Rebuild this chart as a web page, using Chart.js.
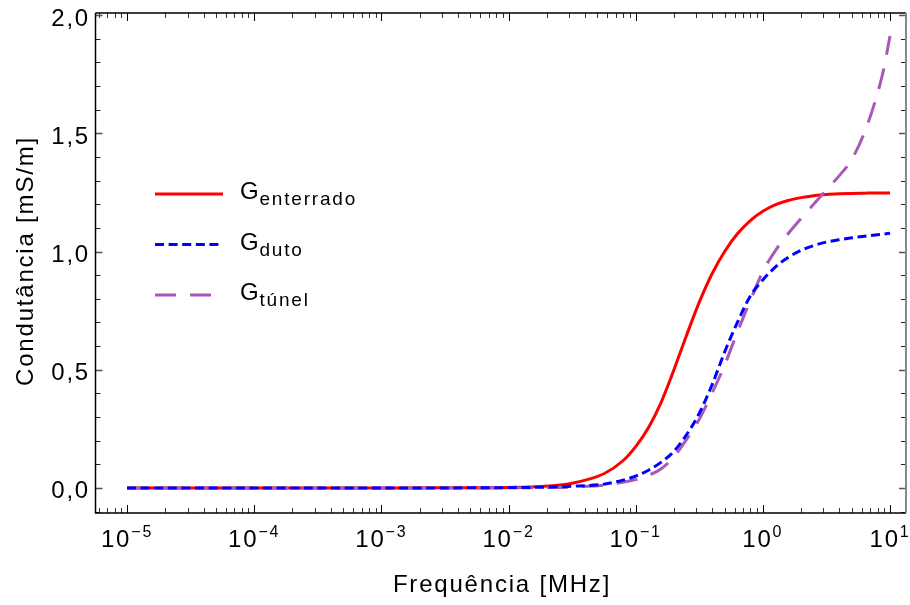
<!DOCTYPE html>
<html>
<head>
<meta charset="utf-8">
<script src="https://cdn.jsdelivr.net/npm/chart.js@4.4.1/dist/chart.umd.min.js"></script>
<style>
  body { margin: 0; background: #fff; }
  canvas { display: block; }
</style>
</head>
<body>
<canvas id="condChart" width="910" height="605"></canvas>
<script>
    // Frequencies [MHz] and conductance curves [mS/m]
    const freq = [1e-5, 1e-4, 1e-3, 0.00316, 0.01, 0.0178, 0.0316, 0.0562, 0.0794, 0.1,
        0.126, 0.158, 0.2, 0.251, 0.316, 0.398, 0.501, 0.631, 0.794, 1,
        1.26, 1.58, 2, 2.51, 3.16, 3.98, 5.01, 6.31, 7.94, 8.91, 10];
    const gEnterrado = [0, 0, 0, 0.0003, 0.002, 0.006, 0.02, 0.06, 0.115, 0.175,
        0.255, 0.36, 0.50, 0.645, 0.785, 0.905, 1.0, 1.075, 1.13, 1.17,
        1.198, 1.216, 1.228, 1.236, 1.241, 1.244, 1.246, 1.247, 1.248, 1.248, 1.248];
    const gDuto = [0, 0, 0, 0.0002, 0.001, 0.003, 0.007, 0.016, 0.033, 0.05,
        0.075, 0.108, 0.155, 0.225, 0.315, 0.435, 0.575, 0.70, 0.81, 0.88,
        0.935, 0.975, 1.005, 1.025, 1.04, 1.05, 1.058, 1.065, 1.071, 1.074, 1.077];
    const gTunel = [0, 0, 0, 0.0001, 0.0005, 0.0015, 0.004, 0.012, 0.024, 0.035,
        0.053, 0.08, 0.132, 0.205, 0.29, 0.40, 0.52, 0.66, 0.79, 0.915,
        1.005, 1.075, 1.14, 1.20, 1.26, 1.32, 1.39, 1.505, 1.665, 1.77, 1.912];

    // Tick labels
    const xDecades = [1e-5, 1e-4, 1e-3, 1e-2, 1e-1, 1, 10];
    const xExponents = ['\u22125', '\u22124', '\u22123', '\u22122', '\u22121', '0', '1'];
    const yTicks = [0, 0.5, 1, 1.5, 2];
    const yTickLabels = ['0,0', '0,5', '1,0', '1,5', '2,0'];

    const legendRows = [
        { sub: 'enterrado', color: '#ff0000', dash: [], width: 3 },
        { sub: 'duto', color: '#0000ff', dash: [9, 4.6], width: 3 },
        { sub: 't\u00fanel', color: 'rgb(168,88,182)', dash: [21, 14], width: 3 }
    ];

    const FONT = '"Liberation Sans", Arial, sans-serif';

    const toPoints = vals => vals.map((v, i) => ({ x: freq[i], y: v }));

    // Frame, inward ticks, tick labels, titles and legend
    const framePlugin = {
        id: 'frame',
        afterDraw(chart) {
            const ctx = chart.ctx;
            const area = chart.chartArea;
            const xs = chart.scales.x;
            const ys = chart.scales.y;
            ctx.save();

            // x ticks (bottom and top)
            for (let k = -6; k <= 1; k++) {
                for (let m = 1; m <= 9; m++) {
                    const v = m * Math.pow(10, k);
                    if (v < xs.min || v > xs.max) continue;
                    const px = Math.round(xs.getPixelForValue(v)) + 0.5;
                    const len = m === 1 ? 8 : 5;
                    ctx.strokeStyle = m === 1 ? '#000' : '#333';
                    ctx.lineWidth = 1;
                    ctx.beginPath();
                    ctx.moveTo(px, area.bottom);
                    ctx.lineTo(px, area.bottom - len);
                    ctx.moveTo(px, area.top);
                    ctx.lineTo(px, area.top + len);
                    ctx.stroke();
                }
            }
            // y ticks (left and right)
            for (let i = -1; i <= 20; i++) {
                const v = i / 10;
                const py = Math.round(ys.getPixelForValue(v)) + 0.5;
                const len = i % 5 === 0 ? 7 : 5;
                ctx.strokeStyle = i % 5 === 0 ? '#555' : '#222';
                ctx.lineWidth = i % 5 === 0 ? 1.5 : 1;
                ctx.beginPath();
                ctx.moveTo(area.left, py);
                ctx.lineTo(area.left + len, py);
                ctx.moveTo(area.right, py);
                ctx.lineTo(area.right - len, py);
                ctx.stroke();
            }

            // frame
            ctx.lineWidth = 1.5;
            ctx.strokeStyle = '#000';
            ctx.beginPath();
            ctx.moveTo(area.left, area.top);
            ctx.lineTo(area.right, area.top);
            ctx.moveTo(area.left, area.top);
            ctx.lineTo(area.left, area.bottom);
            ctx.lineTo(area.right, area.bottom);
            ctx.stroke();
            ctx.strokeStyle = '#888';
            ctx.lineWidth = 2;
            ctx.beginPath();
            ctx.moveTo(area.right, area.top);
            ctx.lineTo(area.right, area.bottom);
            ctx.stroke();

            ctx.letterSpacing = '1.8px';
            ctx.fillStyle = '#000';

            // y tick labels
            ctx.font = '24px ' + FONT;
            ctx.textAlign = 'right';
            ctx.textBaseline = 'alphabetic';
            yTicks.forEach((v, i) => {
                ctx.fillText(yTickLabels[i], 90, ys.getPixelForValue(v) + 10.5);
            });

            // x tick labels with superscript exponents
            ctx.textAlign = 'left';
            xDecades.forEach((v, i) => {
                const px = xs.getPixelForValue(v);
                ctx.font = '24px ' + FONT;
                const wBase = ctx.measureText('10').width;
                ctx.font = '16px ' + FONT;
                const wExp = ctx.measureText(xExponents[i]).width;
                const x0 = px - (wBase + wExp) / 2;
                ctx.font = '24px ' + FONT;
                ctx.fillText('10', x0, 547);
                ctx.font = '16px ' + FONT;
                ctx.fillText(xExponents[i], x0 + wBase, 537);
            });

            // axis titles
            ctx.font = '24px ' + FONT;
            ctx.textAlign = 'center';
            ctx.fillText('Frequ\u00eancia [MHz]', 502, 592);
            ctx.save();
            ctx.translate(33, 261);
            ctx.rotate(-Math.PI / 2);
            ctx.fillText('Condut\u00e2ncia [mS/m]', 0, 0);
            ctx.restore();

            // legend
            legendRows.forEach((row, i) => {
                const base = 199 + i * 50.5;
                ctx.save();
                ctx.strokeStyle = row.color;
                ctx.lineWidth = row.width;
                ctx.setLineDash(row.dash);
                ctx.beginPath();
                ctx.moveTo(155, base - 5);
                ctx.lineTo(223, base - 5);
                ctx.stroke();
                ctx.restore();
                ctx.textAlign = 'left';
                ctx.font = '24px ' + FONT;
                ctx.fillText('G', 240, base);
                const wG = ctx.measureText('G').width;
                ctx.font = '19px ' + FONT;
                ctx.fillText(row.sub, 240 + wG - 1, base + 6);
            });

            ctx.restore();
        }
    };

    const ctx = document.getElementById('condChart').getContext('2d');
    new Chart(ctx, {
        type: 'line',
        data: {
            datasets: [{
                label: 'G duto',
                data: toPoints(gDuto),
                borderColor: '#0000ff',
                borderWidth: 3,
                borderDash: [9, 4.6],
                order: 0
            }, {
                label: 'G túnel',
                data: toPoints(gTunel),
                borderColor: 'rgb(168,88,182)',
                borderWidth: 3,
                borderDash: [21, 14],
                order: 1
            }, {
                label: 'G enterrado',
                data: toPoints(gEnterrado),
                borderColor: '#ff0000',
                borderWidth: 3,
                order: 2
            }]
        },
        options: {
            responsive: false,
            animation: false,
            devicePixelRatio: 1,
            parsing: true,
            elements: {
                point: { radius: 0 },
                line: { cubicInterpolationMode: 'monotone', fill: false }
            },
            layout: { padding: { top: 13, right: 4, left: 0, bottom: 0 } },
            scales: {
                x: {
                    type: 'logarithmic',
                    position: 'bottom',
                    min: Math.pow(10, -5.248),
                    max: Math.pow(10, 1.126),
                    ticks: { display: false },
                    grid: { display: false },
                    border: { display: false },
                    afterFit: scale => { scale.height = 92; }
                },
                y: {
                    type: 'linear',
                    min: -0.106,
                    max: 2.009,
                    ticks: { display: false },
                    grid: { display: false },
                    border: { display: false },
                    afterFit: scale => { scale.width = 95.5; }
                }
            },
            plugins: {
                legend: { display: false },
                tooltip: { enabled: false }
            }
        },
        plugins: [framePlugin]
    });
</script>
</body>
</html>
